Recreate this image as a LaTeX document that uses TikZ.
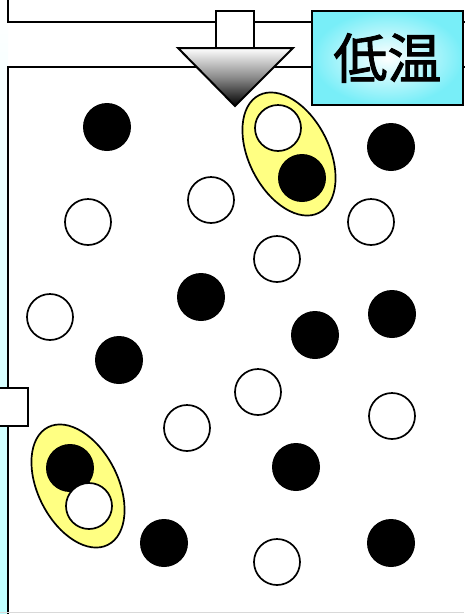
\documentclass[tikz,border=0pt]{standalone}
\usepackage{fontspec}
\newfontfamily\jpfont[FakeBold=1.6]{Noto Sans CJK JP}
\definecolor{tagcyan}{RGB}{120,238,248}
\definecolor{stripcyan}{RGB}{190,255,255}
\definecolor{pairyellow}{RGB}{255,255,130}

\begin{document}
\begin{tikzpicture}[x=1pt,y=1pt,
  wall/.style={draw=black,line width=2pt},
  dark/.style={circle,fill=black,minimum size=48pt,inner sep=0pt},
  light/.style={circle,draw=black,fill=white,line width=1.7pt,minimum size=46pt,inner sep=0pt},
  pair/.style={draw=black,fill=pairyellow,line width=1.7pt},
  tag/.style={draw=black,line width=1.8pt,inner color=white,outer color=tagcyan,
              minimum width=151pt,minimum height=94pt,inner sep=0pt,
              font=\jpfont\fontsize{54}{54}\selectfont}]

\useasboundingbox (0,0) rectangle (464,-614);
\fill[white] (0,0) rectangle (464,-614);

% --- 1. walls
\shade[top color=white,bottom color=stripcyan] (0,0) rectangle (8,-614);
\fill[white] (8,6) rectangle (470,-22);
\draw[wall] (8,6) -- (8,-22) -- (470,-22);
\fill[white] (8,-67) rectangle (470,-620);
\draw[wall] (8,-620) -- (8,-67) -- (470,-67);
\draw[wall,fill=white] (-3,-388) rectangle (28,-426);
\draw[black!15,line width=1pt] (0,-612.5) -- (464,-612.5);

% --- 2. arrow
\draw[wall,fill=white] (216,-11) rectangle (254,-50);
\shadedraw[top color=white,bottom color=black,middle color=black!45,draw=black,line width=2pt]
  (178,-48) -- (293,-48) -- (235,-106) -- cycle;

% --- 3. label
\node[tag,anchor=north west] (cold) at (311,-10) {低温};

% --- 4. pairs
\draw[pair,rotate around={-63:(289,-154)}] (289,-154) ellipse [x radius=66,y radius=40];
\draw[pair,rotate around={-63:(78,-486)}] (78,-486) ellipse [x radius=66,y radius=40];

% --- 5. particles
\foreach \name/\x/\y in {b1/107/127, b2/391/147, b3/302/178, b4/201/297,
    b5/392/314, b6/315/335, b7/119/360, b8/296/467, b9/70/468,
    b10/164/543, b11/391/543}
  \node[dark] (\name) at (\x,-\y) {};
\foreach \name/\x/\y in {w1/278/128, w2/211/200, w3/88/222, w4/371/222,
    w5/277/259, w6/50/317, w7/258/392, w8/187/428, w9/392/416,
    w10/89/506, w11/277/562}
  \node[light] (\name) at (\x,-\y) {};
\end{tikzpicture}
\end{document}
